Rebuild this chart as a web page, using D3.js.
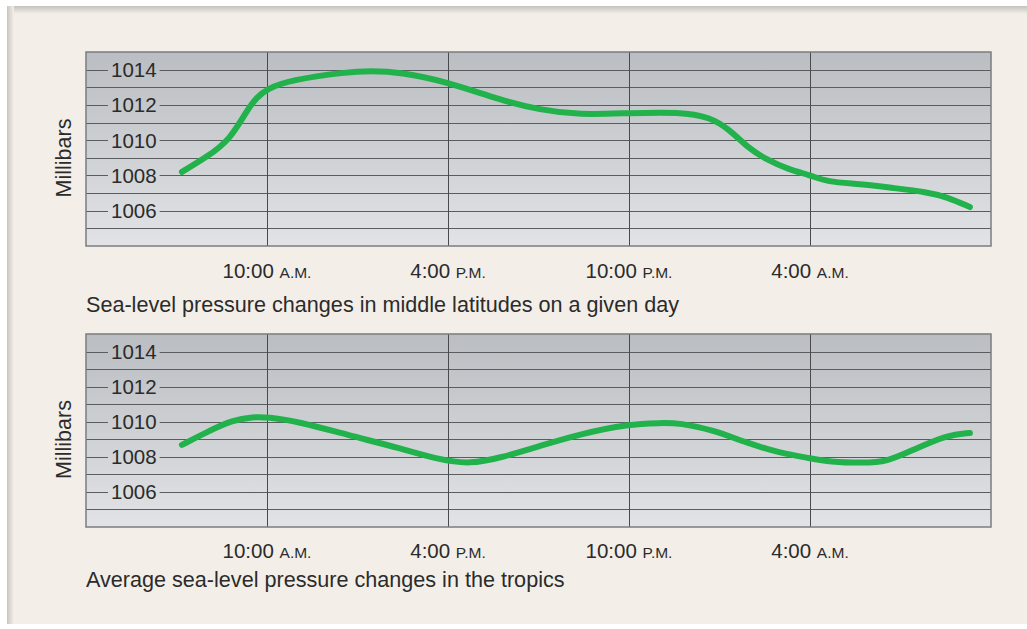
<!DOCTYPE html>
<html>
<head>
<meta charset="utf-8">
<script src="https://cdn.jsdelivr.net/npm/d3@7"></script>
<style>
  body { margin: 0; background: #fff; }
  svg { display: block; font-family: "Liberation Sans", Arial, sans-serif; }
</style>
</head>
<body>
<div class="canvas"></div>
<script>
// hours counted from 4:00 A.M. of the first day
const midLatHours = [3.18, 4.01, 4.77, 5.34, 5.67, 6.0, 6.76, 8.65, 9.41, 10.41, 12.0, 13.72, 15.05, 16.37, 18.0, 19.69, 20.68, 21.35, 21.91, 22.57, 23.33, 24.0, 24.56, 25.65, 26.75, 27.88, 28.54, 29.3];
const midLatPressure = [1008.2, 1009.05, 1010.01, 1011.71, 1012.45, 1012.9, 1013.41, 1013.87, 1013.92, 1013.87, 1013.3, 1012.28, 1011.71, 1011.43, 1011.54, 1011.6, 1011.32, 1010.58, 1009.61, 1008.88, 1008.31, 1008.03, 1007.63, 1007.52, 1007.29, 1007.06, 1006.78, 1006.21];

const tropicsHours = [3.18, 4.01, 4.87, 5.54, 6.0, 7.09, 8.65, 10.41, 11.73, 12.73, 13.72, 15.05, 16.37, 18.0, 19.03, 19.69, 20.78, 21.91, 23.0, 23.96, 24.66, 25.75, 26.55, 27.41, 28.54, 29.3];
const tropicsPressure = [1008.68, 1009.42, 1010.1, 1010.27, 1010.27, 1009.99, 1009.25, 1008.5, 1007.82, 1007.59, 1007.93, 1008.62, 1009.3, 1009.87, 1009.93, 1009.93, 1009.53, 1008.79, 1008.22, 1007.93, 1007.71, 1007.65, 1007.71, 1008.39, 1009.25, 1009.36];

const timeTicks = [6, 12, 18, 24];
const timeLabels = ['10:00', '4:00', '10:00', '4:00'];
const timeSuffix = ['A.M.', 'P.M.', 'P.M.', 'A.M.'];
const pressureTicks = [1014, 1012, 1010, 1008, 1006];
const captions = ['Sea-level pressure changes in middle latitudes on a given day',
                  'Average sea-level pressure changes in the tropics'];

const width = 1027, height = 629;
const svg = d3.select('.canvas').append('svg')
    .attr('width', width)
    .attr('height', height);

// page panel with a soft shadow on top/left
const defs = svg.append('defs');
const shadowTop = defs.append('linearGradient').attr('id', 'shTop').attr('x1', 0).attr('y1', 0).attr('x2', 0).attr('y2', 1);
shadowTop.append('stop').attr('offset', '0%').attr('stop-color', '#c4c2be');
shadowTop.append('stop').attr('offset', '100%').attr('stop-color', '#f3efe8');
const shadowLeft = defs.append('linearGradient').attr('id', 'shLeft').attr('x1', 0).attr('y1', 0).attr('x2', 1).attr('y2', 0);
shadowLeft.append('stop').attr('offset', '0%').attr('stop-color', '#c9c6c1');
shadowLeft.append('stop').attr('offset', '100%').attr('stop-color', '#f3efe8');
const plotGrad = defs.append('linearGradient').attr('id', 'plotBg').attr('x1', 0).attr('y1', 0).attr('x2', 0).attr('y2', 1);
plotGrad.append('stop').attr('offset', '0%').attr('stop-color', '#babdc1');
plotGrad.append('stop').attr('offset', '100%').attr('stop-color', '#e1e3e6');

svg.append('rect').attr('x', 7).attr('y', 6).attr('width', width - 7).attr('height', 618).attr('fill', '#f3efe8');
svg.append('rect').attr('x', 7).attr('y', 6).attr('width', width - 7).attr('height', 8).attr('fill', 'url(#shTop)');
svg.append('rect').attr('x', 7).attr('y', 6).attr('width', 7).attr('height', 618).attr('fill', 'url(#shLeft)');

const x = d3.scaleLinear()
    .domain([0, 30])          // 4:00 A.M. to 10:00 A.M. next day
    .range([86, 991]);

const panels = [
  {hours: midLatHours, values: midLatPressure, top: 52, bottom: 246, labelY: 277.5, captionY: 312, caption: captions[0]},
  {hours: tropicsHours, values: tropicsPressure, top: 334, bottom: 527, labelY: 557.5, captionY: 587, caption: captions[1]}
];

panels.forEach(p => {
  const y = d3.scaleLinear()
      .domain([1004, 1015])
      .range([p.bottom, p.top]);
  const g = svg.append('g');
  const x0 = x.range()[0], x1 = x.range()[1];

  g.append('rect')
      .attr('x', x0).attr('y', p.top)
      .attr('width', x1 - x0).attr('height', p.bottom - p.top)
      .attr('fill', 'url(#plotBg)');

  // y tick labels first so the gridlines can leave a gap round them
  const labels = g.selectAll('.ylab')
      .data(pressureTicks)
      .join('text')
      .attr('class', 'ylab')
      .attr('x', 111)
      .attr('y', d => y(d))
      .attr('dy', '0.36em')
      .attr('font-size', 20.5)
      .attr('fill', '#2b2b2b')
      .text(d => d);
  const labW = {};
  labels.each(function(d) { labW[d] = this.getComputedTextLength(); });

  const gridVals = d3.range(1005, 1015);
  gridVals.forEach(v => {
    const segs = labW[v] ? [[x0, 108], [111 + labW[v] + 3, x1]] : [[x0, x1]];
    segs.forEach(s => {
      g.append('line')
          .attr('x1', s[0]).attr('x2', s[1])
          .attr('y1', Math.round(y(v)) + 0.5).attr('y2', Math.round(y(v)) + 0.5)
          .attr('stroke', '#5b5c60').attr('stroke-width', 1);
    });
  });

  // vertical gridlines through the time ticks
  const xAxis = d3.axisBottom(x).tickValues(timeTicks).tickSize(-(p.bottom - p.top)).tickFormat('');
  const ax = g.append('g').attr('transform', `translate(0,${p.bottom})`).call(xAxis);
  ax.select('.domain').remove();
  ax.selectAll('line').attr('stroke', '#4a4a4e').attr('stroke-width', 1);

  g.append('rect')
      .attr('x', x0).attr('y', p.top)
      .attr('width', x1 - x0).attr('height', p.bottom - p.top)
      .attr('fill', 'none').attr('stroke', '#7b7c80').attr('stroke-width', 1.5);

  const line = d3.line()
      .x((d, i) => x(p.hours[i]))
      .y(d => y(d))
      .curve(d3.curveBasis);
  g.append('path')
      .datum(p.values)
      .attr('d', line)
      .attr('fill', 'none')
      .attr('stroke', '#21b24b')
      .attr('stroke-width', 6)
      .attr('stroke-linecap', 'round')
      .attr('stroke-linejoin', 'round');

  const tl = g.selectAll('.tlab')
      .data(timeTicks)
      .join('text')
      .attr('class', 'tlab')
      .attr('x', d => x(d))
      .attr('y', p.labelY)
      .attr('text-anchor', 'middle')
      .attr('fill', '#2b2b2b');
  tl.append('tspan').attr('font-size', 20.5).text((d, i) => timeLabels[i] + ' ');
  tl.append('tspan').attr('font-size', 15.5).text((d, i) => timeSuffix[i]);

  g.append('text')
      .attr('x', 86)
      .attr('y', p.captionY)
      .attr('font-size', 21.6)
      .attr('fill', '#2b2b2b')
      .text(p.caption);

  g.append('text')
      .attr('transform', `translate(71,${(p.top + p.bottom) / 2 + 9}) rotate(-90)`)
      .attr('text-anchor', 'middle')
      .attr('font-size', 21.5)
      .attr('fill', '#2b2b2b')
      .text('Millibars');
});
</script>
</body>
</html>
